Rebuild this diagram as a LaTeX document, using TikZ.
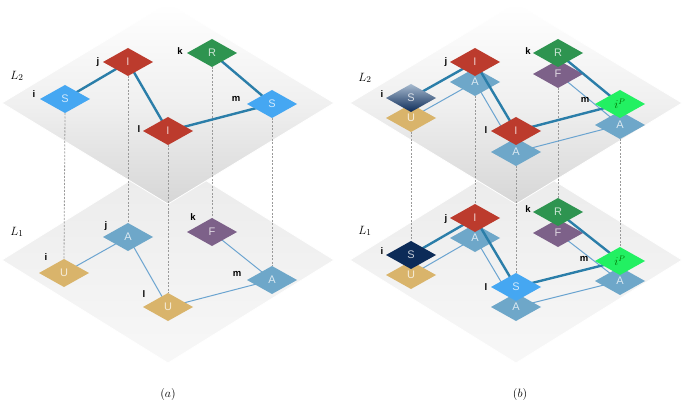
\documentclass[tikz,border=0pt]{standalone}
\usepackage{fontspec}
\setsansfont{Liberation Sans}
\usetikzlibrary{shapes.geometric}
\pgfdeclarelayer{Lplanes}
\pgfdeclarelayer{Ldash}
\pgfdeclarelayer{Lthin}
\pgfdeclarelayer{Lthick}
\pgfdeclarelayer{Ltop}
\pgfsetlayers{Lplanes,Ldash,Lthin,main,Lthick,Ltop}
\definecolor{cS}{HTML}{45A7F2}
\definecolor{cI}{HTML}{BC3B2D}
\definecolor{cR}{HTML}{2E9450}
\definecolor{cU}{HTML}{D9B46B}
\definecolor{cA}{HTML}{6EA7C9}
\definecolor{cF}{HTML}{7D6189}
\definecolor{cP}{HTML}{22F062}
\definecolor{cN}{HTML}{0C2B58}
\definecolor{cNt}{HTML}{A7BACF}
\definecolor{cThk}{HTML}{2B7EA9}
\definecolor{cThn}{HTML}{6BA4D0}
\definecolor{cDash}{HTML}{9A9A9A}
\tikzset{
  nd/.style={diamond, minimum width=50pt, minimum height=28pt, inner sep=0pt, outer sep=0pt,
    font=\sffamily\fontsize{11}{11}\selectfont, text=white, text opacity=0.75},
  nS/.style={nd, fill=cS},
  nI/.style={nd, fill=cI},
  nR/.style={nd, fill=cR},
  nU/.style={nd, fill=cU},
  nA/.style={nd, fill=cA},
  nF/.style={nd, fill=cF},
  nP/.style={nd, fill=cP, text=green!45!black, text opacity=1, font=\fontsize{12}{12}\selectfont},
  nN/.style={nd, fill=cN},
  nG/.style={nd, top color=cNt, bottom color=cN},
  lbl/.style={font=\sffamily\bfseries\fontsize{9.5}{9.5}\selectfont, inner sep=0pt},
  lay/.style={font=\fontsize{13}{13}\selectfont, inner sep=0pt},
  captext/.style={font=\fontsize{12}{12}\selectfont, inner sep=0pt},
  thk/.style={draw=cThk, line width=2.4pt},
  thn/.style={draw=cThn, line width=1pt},
  vdash/.style={draw=cDash, line width=0.8pt, dash pattern=on 2pt off 1.5pt},
  upplane/.style={top color=white, bottom color=black!16, middle color=black!6, draw=white, line width=0.8pt},
  loplane/.style={top color=black!8, bottom color=black!3, draw=white, line width=0.8pt},
}
\begin{document}
\begin{tikzpicture}[x=1pt,y=-1pt]
\useasboundingbox (0,0) rectangle (685,406);
% planes
\begin{pgfonlayer}{Lplanes}
  \path[loplane] (2,260) -- (168,157) -- (334,260) -- (168,363) -- cycle;
  \path[upplane] (2,103) -- (168,3) -- (334,103) -- (168,204) -- cycle;
  \path[loplane] (350,260) -- (516,157) -- (682,260) -- (516,363) -- cycle;
  \path[upplane] (350,103) -- (516,3) -- (682,103) -- (516,204) -- cycle;
\end{pgfonlayer}

% ---------------- panel (a) ----------------
\begin{pgfonlayer}{Ltop}
  \node[nS] (a2i) at (65,99) {S};
  \node[nI] (a2j) at (128,62) {I};
  \node[nR] (a2k) at (212,53) {R};
  \node[nS] (a2m) at (272,104) {S};
  \node[nI] (a2l) at (168,131) {I};
\end{pgfonlayer}
\node[nU] (a1i) at (64,273) {U};
\node[nA] (a1j) at (128,237) {A};
\node[nF] (a1k) at (212,232) {F};
\node[nA] (a1m) at (272,280) {A};
\node[nU] (a1l) at (168,307) {U};

\begin{pgfonlayer}{Lthick}
  \draw[thk] (a2i.center) -- (a2j.center);
  \draw[thk] (a2j.center) -- (a2l.center);
  \draw[thk] (a2l.center) -- (a2m.center);
  \draw[thk] (a2k.center) -- (a2m.center);
\end{pgfonlayer}
\begin{pgfonlayer}{Lthin}
  \draw[thn] (a1i.center) -- (a1j.center);
  \draw[thn] (a1j.center) -- (a1l.center);
  \draw[thn] (a1l.center) -- (a1m.center);
  \draw[thn] (a1k.center) -- (a1m.center);
\end{pgfonlayer}
\begin{pgfonlayer}{Ldash}
  \draw[vdash] (a2i.south) -- (a1i.north);
  \draw[vdash] (a2j.south) -- (a1j.north);
  \draw[vdash] (a2k.south) -- (a1k.north);
  \draw[vdash] (a2m.south) -- (a1m.north);
  \draw[vdash] (a2l.south) -- (a1l.north);
\end{pgfonlayer}

\node[lbl] (la2i) at (34,94) {i};
\node[lbl] (la2j) at (98,62) {j};
\node[lbl] (la2k) at (180,51) {k};
\node[lbl] (la2m) at (236,99) {m};
\node[lbl] (la2l) at (139,129) {l};
\node[lbl] (la1i) at (46,257) {i};
\node[lbl] (la1j) at (106,226) {j};
\node[lbl] (la1k) at (193,217) {k};
\node[lbl] (la1m) at (237,274) {m};
\node[lbl] (la1l) at (144,294) {l};
\node[lay] (aL2) at (17,76) {$L_2$};
\node[lay] (aL1) at (17,232) {$L_1$};
\node[captext] (capa) at (168,394) {$(a)$};

% ---------------- panel (b) ----------------
% upper plane: bottom-layer nodes
\node[nU] (b2iu) at (411,118) {U};
\node[nA] (b2ja) at (475,82) {A};
\node[nF] (b2kf) at (558,74) {F};
\node[nA] (b2ma) at (620,125) {A};
\node[nA] (b2la) at (516,152) {A};
\begin{pgfonlayer}{Ltop}
  \node[nG] (b2i) at (411,98) {S};
  \node[nI] (b2j) at (475,62) {I};
  \node[nR] (b2k) at (558,53) {R};
  \node[nP] (b2m) at (620,104) {$i^{P}$};
  \node[nI] (b2l) at (516,131) {I};
\end{pgfonlayer}
% lower plane
\node[nU] (b1iu) at (411,275) {U};
\node[nA] (b1ja) at (475,238) {A};
\node[nF] (b1kf) at (558,233) {F};
\node[nA] (b1ma) at (620,281) {A};
\node[nA] (b1la) at (516,307) {A};
\begin{pgfonlayer}{Ltop}
  \node[nN] (b1i) at (411,255) {S};
  \node[nI] (b1j) at (475,218) {I};
  \node[nR] (b1k) at (558,212) {R};
  \node[nP] (b1m) at (620,261) {$i^{P}$};
  \node[nS] (b1l) at (516,287) {S};
\end{pgfonlayer}

\begin{pgfonlayer}{Lthin}
  \draw[thn] (b2iu.center) -- (b2ja.center);
  \draw[thn] (b2ja.center) -- (b2la.center);
  \draw[thn] (b2la.center) -- (b2ma.center);
  \draw[thn] (b2kf.center) -- (b2ma.center);
  \draw[thn] (b1iu.center) -- (b1ja.center);
  \draw[thn] (b1ja.center) -- (b1la.center);
  \draw[thn] (b1la.center) -- (b1ma.center);
  \draw[thn] (b1kf.center) -- (b1ma.center);
\end{pgfonlayer}
\begin{pgfonlayer}{Lthick}
  \draw[thk] (b2i.center) -- (b2j.center);
  \draw[thk] (b2j.center) -- (b2l.center);
  \draw[thk] (b2l.center) -- (b2m.center);
  \draw[thk] (b2k.center) -- (b2m.center);
  \draw[thk] (b1i.center) -- (b1j.center);
  \draw[thk] (b1j.center) -- (b1l.center);
  \draw[thk] (b1l.center) -- (b1m.center);
  \draw[thk] (b1k.center) -- (b1m.center);
\end{pgfonlayer}
\begin{pgfonlayer}{Ldash}
  \draw[vdash] (b2iu.south) -- (b1i.north);
  \draw[vdash] (b2ja.south) -- (b1j.north);
  \draw[vdash] (b2kf.south) -- (b1k.north);
  \draw[vdash] (b2ma.south) -- (b1m.north);
  \draw[vdash] (b2la.south) -- (b1l.north);
\end{pgfonlayer}

\node[lbl] (lb2i) at (382,94) {i};
\node[lbl] (lb2j) at (446,62) {j};
\node[lbl] (lb2k) at (528,51) {k};
\node[lbl] (lb2m) at (585,100) {m};
\node[lbl] (lb2l) at (486,130) {l};
\node[lbl] (lb1i) at (382,251) {i};
\node[lbl] (lb1j) at (446,219) {j};
\node[lbl] (lb1k) at (528,209) {k};
\node[lbl] (lb1m) at (584,259) {m};
\node[lbl] (lb1l) at (486,287) {l};
\node[lay] (bL2) at (365,78) {$L_2$};
\node[lay] (bL1) at (365,231) {$L_1$};
\node[captext] (capb) at (520,394) {$(b)$};
\end{tikzpicture}
\end{document}
